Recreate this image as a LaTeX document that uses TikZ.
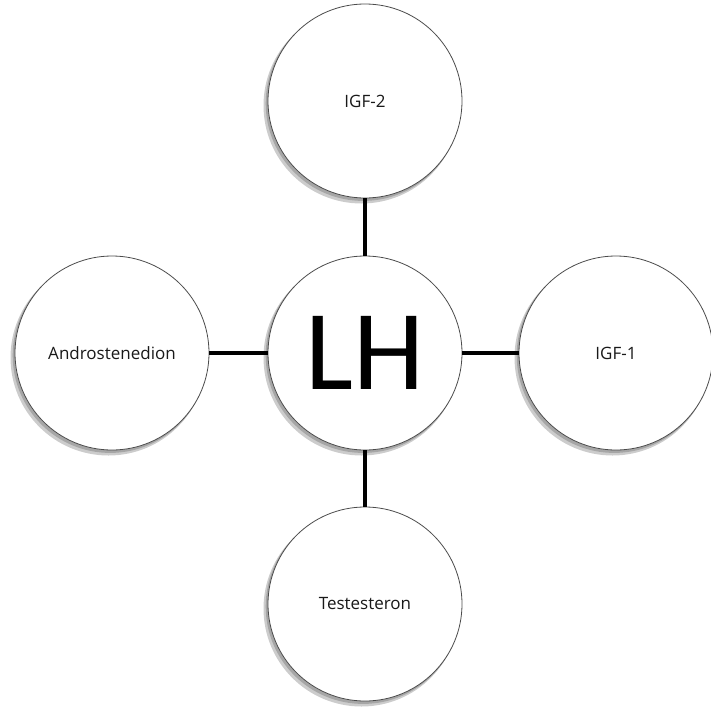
\documentclass[tikz,border=0pt]{standalone}
\usepackage{fontspec}
\setmainfont{Open Sans}
\newfontfamily\lhfont{Carlito}
\begin{document}
\begin{tikzpicture}[x=1pt,y=-1pt,
  bubble/.style={circle,draw=gray!60!black,line width=0.8pt,fill=white,minimum size=194pt,inner sep=0pt,
    font=\fontsize{17}{20}\selectfont,text=black!90},
  link/.style={line width=3.8pt,black},
  shade1/.style={fill=gray!40},
  shade2/.style={fill=gray!70}]
\useasboundingbox (0,0) rectangle (711,713);
\foreach \cx/\cy in {365/353,365/101,616/353,112/353,365/604}{
  \fill[shade1] (\cx-3.5,\cy+4.5) circle[radius=98pt];
  \fill[shade2] (\cx-1.8,\cy+2.4) circle[radius=97.5pt];
}
\node[bubble] (lh) at (365,353) {};
\node[font=\lhfont\fontsize{114}{120}\selectfont] (lhtext) at (365,353) {LH};
\node[bubble] (igf2) at (365,101) {IGF-2};
\node[bubble] (igf1) at (616,353) {IGF-1};
\node[bubble] (andro) at (112,353) {Androstenedion};
\node[bubble] (testo) at (365,604) {Testesteron};
\draw[link] (lh) -- (igf2);
\draw[link] (lh) -- (igf1);
\draw[link] (lh) -- (andro);
\draw[link] (lh) -- (testo);
\end{tikzpicture}
\end{document}
